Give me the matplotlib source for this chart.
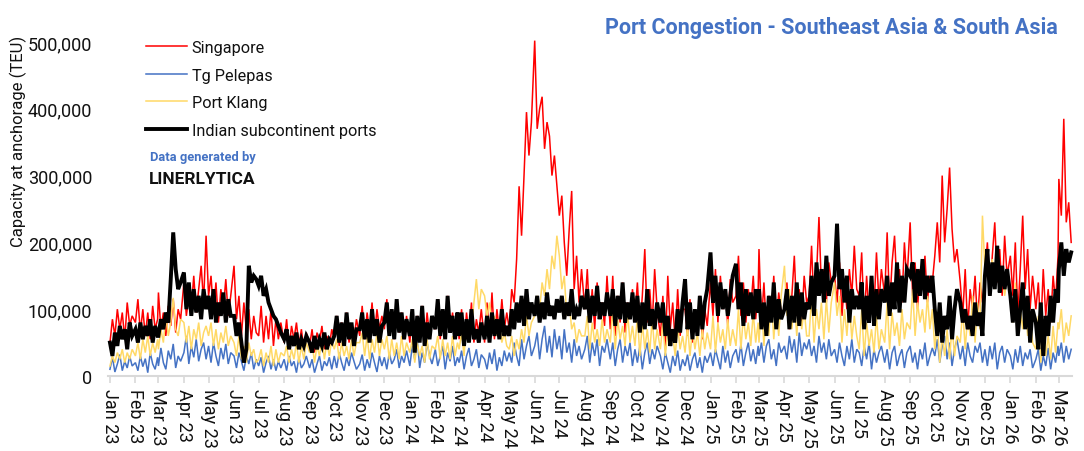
import datetime as dt
import matplotlib
matplotlib.use("Agg")
import matplotlib.pyplot as plt
from matplotlib import font_manager
from matplotlib.ticker import FuncFormatter

# ---------------- data (thousand TEU at anchorage) ----------------
# one row per month, samples on days 1,4,7,...,28 (last month partial)
singapore = [
    50, 85, 60, 100, 70, 95, 55, 110, 75, 90,         # Jan 23
    80, 115, 65, 100, 60, 95, 55, 105, 70, 85,        # Feb 23
    125, 70, 95, 60, 105, 75, 115, 65, 100, 85,       # Mar 23
    140, 90, 120, 100, 150, 95, 130, 165, 110, 210,   # Apr 23
    120, 150, 95, 140, 80, 130, 100, 145, 90, 120,    # May 23
    165, 85, 120, 60, 110, 70, 100, 55, 90, 65,       # Jun 23
    60, 105, 50, 90, 55, 100, 45, 85, 55, 80,         # Jul 23
    50, 85, 40, 75, 55, 80, 45, 70, 40, 65,           # Aug 23
    45, 70, 35, 65, 50, 75, 40, 60, 45, 70,           # Sep 23
    55, 90, 45, 80, 60, 95, 50, 75, 55, 85,           # Oct 23
    60, 105, 55, 95, 65, 110, 60, 100, 70, 90,        # Nov 23
    70, 115, 60, 100, 55, 110, 65, 95, 55, 90,        # Dec 23
    50, 100, 45, 90, 60, 105, 50, 95, 60, 85,         # Jan 24
    70, 115, 55, 100, 60, 120, 65, 95, 60, 90,        # Feb 24
    55, 100, 45, 95, 60, 110, 50, 85, 65, 100,        # Mar 24
    50, 110, 60, 125, 55, 100, 65, 115, 70, 95,       # Apr 24
    70, 130, 110, 175, 284, 210, 300, 395, 330, 380,  # May 24
    502, 370, 400, 418, 340, 380, 359, 300, 330, 284, # Jun 24
    240, 270, 200, 150, 220, 277, 130, 180, 110, 160, # Jul 24
    100, 160, 80, 130, 70, 140, 90, 110, 75, 150,     # Aug 24
    70, 150, 60, 120, 80, 140, 65, 110, 85, 130,      # Sep 24
    90, 140, 70, 120, 190, 80, 130, 75, 160, 100,     # Oct 24
    60, 120, 40, 150, 70, 110, 50, 130, 60, 100,      # Nov 24
    100, 60, 115, 50, 90, 70, 120, 55, 100, 75,       # Dec 24
    140, 90, 160, 80, 150, 100, 130, 75, 145, 110,    # Jan 25
    120, 180, 90, 140, 80, 130, 100, 150, 85, 130,    # Feb 25
    190, 80, 140, 70, 120, 90, 150, 75, 125, 95,      # Mar 25
    100, 140, 70, 120, 180, 90, 130, 80, 150, 110,    # Apr 25
    120, 195, 100, 150, 238, 130, 160, 110, 170, 140, # May 25
    150, 110, 170, 90, 140, 100, 160, 120, 195, 130,  # Jun 25
    120, 185, 80, 150, 90, 140, 100, 185, 110, 160,   # Jul 25
    120, 215, 100, 170, 210, 130, 160, 110, 200, 140, # Aug 25
    230, 120, 170, 100, 160, 130, 180, 110, 150, 140, # Sep 25
    180, 230, 170, 300, 200, 250, 312, 220, 170, 190, # Oct 25
    140, 90, 160, 70, 130, 100, 150, 80, 140, 110,    # Nov 25
    150, 200, 120, 180, 230, 140, 190, 120, 210, 150, # Dec 25
    180, 120, 200, 90, 160, 240, 130, 190, 100, 150,  # Jan 26
    100, 140, 70, 160, 90, 130, 80, 150, 110, 180,    # Feb 26
    295, 240, 385, 230, 260, 200,                     # Mar 26
]

tg_pelepas = [
    10, 28, 6, 18, 32, 8, 22, 12, 30, 15,
    20, 8, 30, 14, 26, 5, 35, 18, 10, 28,
    15, 42, 20, 10, 38, 25, 48, 12, 30, 22,
    35, 60, 18, 45, 28, 55, 22, 40, 50, 25,
    45, 20, 50, 30, 15, 42, 25, 48, 18, 35,
    30, 12, 35, 22, 8, 30, 18, 35, 10, 25,
    15, 28, 5, 20, 30, 10, 25, 8, 22, 12,
    25, 8, 30, 15, 22, 5, 28, 12, 18, 30,
    12, 25, 5, 18, 30, 8, 22, 15, 28, 10,
    30, 12, 35, 20, 8, 28, 15, 35, 22, 10,
    18, 32, 8, 25, 12, 35, 20, 6, 30, 15,
    28, 10, 35, 18, 25, 40, 12, 30, 20, 38,
    15, 45, 25, 55, 12, 35, 20, 50, 30, 18,
    40, 15, 30, 45, 10, 35, 22, 45, 15, 28,
    20, 38, 10, 30, 42, 15, 25, 40, 12, 32,
    25, 10, 35, 18, 40, 8, 28, 15, 38, 22,
    35, 20, 50, 30, 15, 55, 25, 45, 60, 30,
    45, 65, 25, 55, 75, 35, 60, 28, 70, 40,
    60, 25, 70, 35, 50, 20, 55, 30, 45, 25,
    40, 60, 20, 50, 30, 55, 15, 45, 35, 55,
    25, 50, 15, 40, 55, 20, 45, 30, 50, 15,
    40, 20, 45, 10, 35, 50, 18, 40, 25, 45,
    30, 10, 35, 20, 5, 30, 15, 38, 8, 25,
    15, 32, 8, 25, 35, 12, 28, 5, 30, 20,
    35, 15, 40, 25, 10, 45, 20, 38, 12, 30,
    40, 20, 48, 15, 35, 50, 22, 40, 18, 45,
    30, 50, 20, 45, 55, 25, 40, 15, 50, 35,
    45, 25, 60, 35, 55, 20, 65, 30, 50, 40,
    55, 30, 45, 20, 60, 35, 50, 25, 55, 30,
    40, 20, 50, 30, 15, 45, 25, 55, 20, 40,
    35, 15, 45, 25, 50, 10, 40, 20, 35, 45,
    20, 40, 10, 35, 45, 15, 30, 40, 12, 35,
    45, 20, 35, 10, 40, 25, 50, 15, 30, 42,
    30, 55, 20, 45, 60, 25, 50, 15, 40, 55,
    25, 45, 15, 50, 30, 20, 45, 35, 50, 20,
    40, 15, 45, 25, 50, 10, 35, 45, 20, 40,
    30, 10, 40, 20, 45, 15, 35, 25, 40, 12,
    25, 40, 8, 30, 15, 42, 10, 35, 20, 45,
    30, 50, 20, 45, 25, 40,
]

port_klang = [
    15, 30, 20, 35, 25, 40, 20, 35, 25, 40,
    30, 50, 25, 55, 35, 60, 30, 50, 35, 55,
    40, 70, 50, 90, 60, 80, 117, 70, 60, 85,
    80, 50, 75, 40, 70, 55, 80, 45, 65, 75,
    60, 80, 45, 70, 40, 65, 50, 75, 45, 60,
    50, 30, 60, 25, 45, 20, 50, 30, 40, 20,
    25, 40, 15, 35, 20, 45, 15, 40, 20, 35,
    30, 45, 20, 40, 25, 50, 20, 45, 25, 50,
    35, 50, 20, 45, 30, 55, 25, 50, 30, 55,
    40, 55, 25, 50, 30, 45, 25, 55, 30, 50,
    50, 65, 30, 60, 25, 55, 35, 65, 30, 55,
    40, 60, 25, 55, 30, 50, 25, 60, 30, 50,
    35, 55, 20, 50, 30, 45, 20, 55, 25, 45,
    40, 60, 25, 55, 30, 50, 25, 60, 30, 50,
    40, 65, 30, 80, 50, 70, 110, 145, 100, 130,
    120, 90, 110, 70, 90, 60, 80, 50, 65, 45,
    40, 60, 30, 55, 40, 70, 50, 90, 60, 80,
    90, 120, 100, 140, 120, 160, 130, 180, 160, 210,
    180, 130, 150, 90, 110, 70, 80, 50, 70, 60,
    60, 90, 40, 80, 50, 70, 45, 85, 50, 70,
    50, 100, 40, 85, 55, 75, 45, 95, 50, 75,
    45, 90, 30, 80, 40, 70, 35, 85, 40, 70,
    40, 80, 30, 70, 45, 60, 30, 75, 40, 60,
    35, 75, 30, 70, 40, 65, 30, 70, 40, 65,
    40, 90, 35, 80, 50, 70, 40, 85, 45, 70,
    45, 100, 40, 90, 55, 80, 45, 95, 50, 80,
    50, 110, 45, 100, 60, 120, 55, 105, 60, 120,
    165, 90, 130, 70, 110, 60, 120, 70, 100, 60,
    60, 120, 50, 100, 70, 110, 55, 115, 65, 110,
    140, 90, 120, 50, 100, 60, 110, 55, 90, 60,
    40, 100, 30, 80, 45, 70, 35, 90, 40, 70,
    50, 110, 40, 95, 60, 80, 45, 100, 55, 80,
    70, 130, 60, 110, 80, 100, 65, 120, 70, 100,
    40, 80, 20, 60, 30, 70, 25, 75, 30, 60,
    50, 100, 40, 90, 60, 120, 50, 110, 70, 240,
    160, 190, 150, 175, 130, 170, 140, 160, 120, 150,
    120, 80, 140, 60, 100, 70, 110, 60, 90, 50,
    40, 90, 20, 70, 30, 60, 25, 75, 35, 80,
    70, 100, 50, 80, 60, 90,
]

indian_subcontinent = [
    50, 30, 65, 45, 75, 55, 70, 40, 80, 60,
    70, 50, 80, 55, 75, 60, 85, 50, 75, 60,
    60, 85, 70, 95, 80, 145, 215, 160, 130, 140,
    155, 100, 140, 90, 130, 95, 120, 85, 130, 100,
    120, 85, 130, 80, 110, 90, 125, 80, 115, 90,
    90, 60, 80, 50, 20, 40, 165, 140, 150, 145,
    135, 150, 120, 130, 110, 100, 90, 85, 75, 65,
    55, 70, 40, 60, 45, 65, 40, 55, 45, 60,
    50, 35, 60, 40, 55, 45, 65, 40, 55, 50,
    60, 90, 50, 80, 45, 95, 55, 80, 45, 70,
    70, 95, 55, 85, 50, 100, 60, 85, 50, 75,
    80, 110, 60, 100, 55, 115, 65, 95, 55, 85,
    60, 100, 35, 90, 50, 105, 45, 80, 55, 90,
    70, 115, 60, 100, 55, 120, 65, 90, 55, 95,
    60, 95, 45, 85, 50, 100, 55, 70, 50, 80,
    55, 90, 50, 95, 60, 85, 55, 100, 60, 75,
    60, 100, 70, 110, 80, 120, 75, 130, 85, 110,
    90, 120, 80, 110, 85, 125, 90, 105, 85, 115,
    95, 120, 85, 110, 90, 130, 85, 100, 90, 120,
    100, 130, 80, 120, 90, 135, 85, 110, 90, 125,
    90, 130, 75, 120, 85, 140, 80, 110, 85, 125,
    80, 120, 65, 110, 70, 130, 75, 100, 70, 110,
    80, 110, 60, 90, 45, 70, 50, 100, 65, 110,
    145, 70, 110, 55, 100, 60, 120, 70, 110, 130,
    185, 110, 150, 90, 140, 100, 130, 90, 120, 150,
    168, 100, 140, 75, 130, 90, 125, 85, 130, 95,
    130, 70, 110, 60, 120, 80, 140, 70, 115, 85,
    100, 130, 70, 120, 80, 140, 75, 125, 85, 110,
    100, 150, 90, 170, 120, 160, 110, 180, 120, 140,
    150, 228, 130, 160, 110, 150, 80, 130, 100, 120,
    100, 140, 70, 120, 80, 150, 75, 130, 85, 130,
    110, 150, 90, 140, 100, 170, 95, 150, 110, 160,
    150, 170, 110, 160, 120, 175, 115, 150, 125, 150,
    100, 60, 110, 50, 90, 70, 120, 55, 100, 130,
    110, 80, 100, 70, 90, 60, 110, 75, 95, 60,
    150, 190, 120, 170, 130, 195, 125, 165, 130, 160,
    120, 80, 130, 60, 100, 140, 70, 120, 50, 100,
    80, 40, 110, 30, 90, 60, 120, 80, 130, 110,
    160, 200, 150, 190, 170, 185,
]

series_names = ["Singapore", "Tg Pelepas", "Port Klang", "Indian subcontinent ports"]
month_labels = ["Jan", "Feb", "Mar", "Apr", "May", "Jun",
                "Jul", "Aug", "Sep", "Oct", "Nov", "Dec"]
y_ticks = [0, 100000, 200000, 300000, 400000, 500000]
sample_days = [1, 4, 7, 10, 13, 16, 19, 22, 25, 28]

# ---------------- dates ----------------
dates = []
months = []
y, m = 2023, 1
while (y, m) <= (2026, 3):
    months.append(dt.date(y, m, 1))
    for d in sample_days:
        dates.append(dt.date(y, m, d))
    m += 1
    if m > 12:
        m, y = 1, y + 1
dates = dates[:len(singapore)]

# ---------------- fonts ----------------
avail = {f.name for f in font_manager.fontManager.ttflist}
main_font = next((f for f in ["Liberation Sans Narrow", "Roboto", "DejaVu Sans"] if f in avail), "DejaVu Sans")
plt.rcParams["font.family"] = [main_font, "DejaVu Sans"]

# ---------------- figure ----------------
W, H = 1084, 452
fig = plt.figure(figsize=(W / 100, H / 100), dpi=100)
ax = fig.add_axes([107.5 / W, 75 / H, 964.5 / W, 347.4 / H])

colors = ["#FF0000", "#4472C4", "#FFD966", "#000000"]
widths = [1.1, 1.1, 1.1, 2.8]
data = [singapore, tg_pelepas, port_klang, indian_subcontinent]
for vals, name, c, lw in zip(data, series_names, colors, widths):
    ax.plot(dates, [v * 1000 for v in vals], color=c, lw=lw, label=name,
            solid_joinstyle="miter", clip_on=False)

ax.set_xlim(dt.date(2022, 12, 29), dt.date(2026, 3, 17))
ax.set_ylim(0, 520000)

ax.set_yticks(y_ticks)
ax.yaxis.set_major_formatter(FuncFormatter(lambda v, p: f"{int(v):,}"))
ax.tick_params(axis="y", length=0, pad=11, labelsize=13, labelcolor="#111111")

ax.set_xticks(months)
ax.set_xticklabels([f"{month_labels[d.month - 1]} {d.year % 100:02d}" for d in months],
                   rotation=-90, fontsize=13, color="#111111")
ax.tick_params(axis="x", length=5, width=1.2, color="#D9D9D9", pad=4)

for s in ["top", "right", "left"]:
    ax.spines[s].set_visible(False)
ax.spines["bottom"].set_color("#D9D9D9")
ax.spines["bottom"].set_linewidth(1.5)

fig.text(18 / W, 1 - 141 / H, "Capacity at anchorage (TEU)", rotation=90,
         ha="center", va="center", fontsize=12, color="#111111")

fig.text(1058 / W, 1 - 28 / H, "Port Congestion - Southeast Asia & South Asia",
         ha="right", va="center", fontsize=15.5, fontweight="bold", color="#4472C4")

leg = ax.legend(loc="upper left", bbox_to_anchor=(146 / W, 1 - 41 / H),
                bbox_transform=fig.transFigure, frameon=False, fontsize=11.7,
                handlelength=2.5, handletextpad=0.3, labelspacing=0.77,
                borderpad=0, borderaxespad=0)
for t in leg.get_texts():
    t.set_color("#111111")

fig.text(150 / W, 1 - 158 / H, "Data generated by", ha="left", va="center",
         fontsize=9.3, fontweight="bold", color="#4472C4")
fig.text(149 / W, 1 - 179 / H, "LINERLYTICA", ha="left", va="center",
         fontsize=12.5, fontweight="bold", color="#111111")

fig.savefig("out.png", dpi=100)
